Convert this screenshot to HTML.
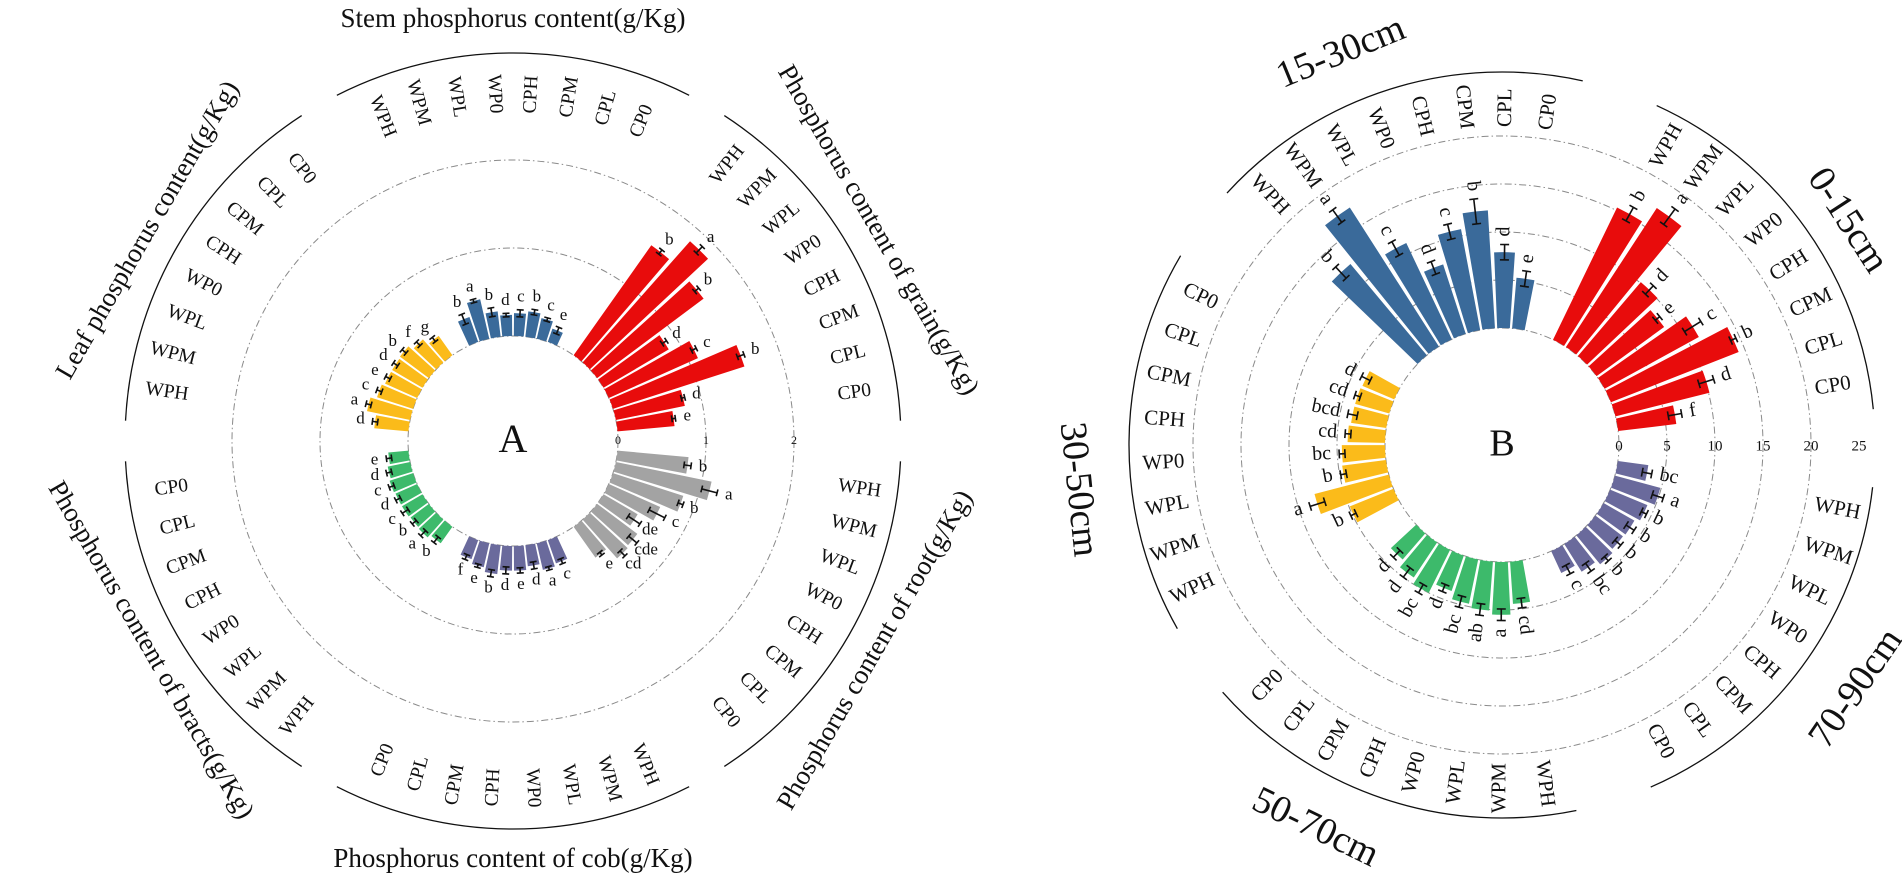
<!DOCTYPE html>
<html><head><meta charset="utf-8">
<style>
html,body{margin:0;padding:0;background:#fff;}
svg{display:block;font-family:"Liberation Serif",serif;}
</style></head>
<body>
<svg id="chart" width="1902" height="885" viewBox="0 0 1902 885" xmlns="http://www.w3.org/2000/svg">
<g id="A"></g>
<g id="B"></g>
</svg>
<script>
// ---- data ----
const categories = ["WPH","WPM","WPL","WP0","CPH","CPM","CPL","CP0"];
// Chart A (g/Kg)
const aTitles = ["Stem phosphorus content(g/Kg)","Phosphorus content of grain(g/Kg)","Phosphorus content of root(g/Kg)","Phosphorus content of cob(g/Kg)","Phosphorus content of bracts(g/Kg)","Leaf phosphorus content(g/Kg)"];
const aStem   = [0.30,0.46,0.29,0.24,0.26,0.29,0.24,0.16];
const aGrain  = [1.53,1.84,1.51,0.86,1.11,1.57,0.80,0.65];
const aRoot   = [0.81,1.11,0.84,0.64,0.45,0.57,0.59,0.43];
const aCob    = [0.28,0.31,0.24,0.28,0.28,0.33,0.28,0.23];
const aBracts = [0.23,0.27,0.26,0.27,0.27,0.28,0.26,0.23];
const aLeaf   = [0.39,0.50,0.43,0.40,0.40,0.41,0.35,0.27];
const aStemErr   = [0.06,0.02,0.05,0.02,0.04,0.03,0.02,0.04];
const aGrainErr  = [0.03,0.05,0.03,0.03,0.03,0.04,0.02,0.02];
const aRootErr   = [0.04,0.09,0.03,0.10,0.08,0.06,0.04,0.02];
const aCobErr    = [0.03,0.02,0.04,0.03,0.04,0.04,0.02,0.03];
const aBractsErr = [0.04,0.04,0.03,0.04,0.03,0.03,0.03,0.03];
const aLeafErr   = [0.03,0.03,0.03,0.03,0.03,0.03,0.03,0.03];
const aStemSig   = ["b","a","b","d","c","b","c","e"];
const aGrainSig  = ["b","a","b","d","c","b","d","e"];
const aRootSig   = ["b","a","b","c","de","cde","cd","e"];
const aCobSig    = ["c","a","d","e","d","b","e","f"];
const aBractsSig = ["b","a","b","c","d","c","d","e"];
const aLeafSig   = ["d","a","c","e","d","b","f","g"];
const aTicks = [0,1,2];
// Chart B (soil depth)
const bTitles = ["0-15cm","15-30cm","30-50cm","50-70cm","70-90cm"];
const b0_15  = [15.3,17.3,10.1,8.7,11.2,14.3,10.1,6.1];
const b15_30 = [12.4,17.2,11.1,7.6,10.7,12.3,7.9,5.3];
const b30_50 = [4.9,8.0,4.6,4.5,3.9,3.7,3.7,3.6];
const b50_70 = [4.4,5.5,5.1,4.7,3.9,5.0,4.4,3.6];
const b70_90 = [3.2,4.9,4.2,3.7,3.6,3.9,3.4,2.5];
const b0_15Err  = [0.8,1.0,0.6,0.3,1.0,0.3,0.8,0.7];
const b15_30Err = [0.8,0.8,0.8,0.7,0.8,1.3,0.8,0.8];
const b30_50Err = [0.3,0.8,0.3,0.3,0.3,0.5,0.3,0.5];
const b50_70Err = [0.5,0.6,0.6,0.6,0.4,0.5,0.6,0.5];
const b70_90Err = [0.5,0.6,0.3,0.5,0.4,0.3,0.5,0.5];
const b0_15Sig  = ["b","a","d","e","c","b","d","f"];
const b15_30Sig = ["b","a","c","d","c","b","d","e"];
const b30_50Sig = ["b","a","b","bc","cd","bcd","cd","d"];
const b50_70Sig = ["cd","a","ab","bc","d","bc","d","d"];
const b70_90Sig = ["bc","a","b","b","b","b","bc","c"];
const bTicks = [0,5,10,15,20,25];

const NS="http://www.w3.org/2000/svg";
function mk(tag, attrs, parent){const e=document.createElementNS(NS,tag);for(const k in attrs)e.setAttribute(k,attrs[k]);parent.appendChild(e);return e;}
function pt(c,a,r){const t=a*Math.PI/180;return [c.cx+r*Math.sin(t), c.cy-r*Math.cos(t)];}
function rad(c,v){return c.r0+v*c.unit;}
function norm(a){return ((a%360)+360)%360;}

function drawChart(c, root){
  c.rings.forEach(v=>{
    const e=mk('circle',{cx:c.cx,cy:c.cy,r:rad(c,v),fill:'none',stroke:'#8a8a8a','stroke-width':1,'stroke-dasharray':'7 3 1.5 3'},root);
    
    
  });
  c.ticks.forEach(v=>{
    const p=pt(c,90,rad(c,v));
    const t=mk('text',{x:p[0],y:p[1]+c.tickDy,'font-size':c.tickFont,'text-anchor':'middle','dominant-baseline':'middle',fill:'#111'},root);
    t.textContent=v;
    
    
  });
  c.groups.forEach((g,gi)=>{
    const gg=mk('g',{},root);
    
    
    g.values.forEach((v,i)=>{
      const a=g.center+(i-3.5)*c.step;
      const a1=a-c.barW/2, a2=a+c.barW/2;
      const r1=rad(c,v);
      const p1=pt(c,a1,c.r0),p2=pt(c,a1,r1),p3=pt(c,a2,r1),p4=pt(c,a2,c.r0);
      const d=`M${p1[0]},${p1[1]} L${p2[0]},${p2[1]} A${r1},${r1} 0 0 1 ${p3[0]},${p3[1]} L${p4[0]},${p4[1]} A${c.r0},${c.r0} 0 0 0 ${p1[0]},${p1[1]} Z`;
      const bar=mk('path',{d:d,fill:g.color},gg);
      
      
      const e=g.err[i];
      const lo=rad(c,v-e), hi=rad(c,v+e);
      const q1=pt(c,a,lo),q2=pt(c,a,hi);
      const eb=mk('g',{stroke:'#111','stroke-width':1.6},gg);
      
      
      mk('line',{x1:q1[0],y1:q1[1],x2:q2[0],y2:q2[1]},eb);
      const cw=c.capW/2;
      [lo,hi].forEach(r=>{
        const da=cw/r*180/Math.PI;
        const s1=pt(c,a-da,r),s2=pt(c,a+da,r);
        mk('line',{x1:s1[0],y1:s1[1],x2:s2[0],y2:s2[1]},eb);
      });
      const rl=hi+c.sigGap;
      const lp=pt(c,a,rl);
      let t;
      if(c.rotSig){
        const n=norm(a);
        const right=n<180;
        const rot=right?n-90:n+90;
        t=mk('text',{x:lp[0],y:lp[1],'font-size':c.sigFont,'text-anchor':right?'start':'end','dominant-baseline':'middle',transform:`rotate(${rot} ${lp[0]} ${lp[1]})`,fill:'#111'},gg);
      } else {
        const lp2=pt(c,a,rl+4);
        t=mk('text',{x:lp2[0],y:lp2[1],'font-size':c.sigFont,'text-anchor':'middle','dominant-baseline':'middle',fill:'#111'},gg);
      }
      t.textContent=g.sig[i];
      
      
      const n=norm(a);
      const right=n<180;
      const rot=right?n-90:n+90;
      const cp=pt(c,a,c.labelR);
      const cl=mk('text',{x:cp[0],y:cp[1],'font-size':c.labelFont,'text-anchor':right?'start':'end','dominant-baseline':'middle',transform:`rotate(${rot} ${cp[0]} ${cp[1]})`,fill:'#111'},gg);
      cl.textContent=categories[i];
      
      
    });
    const s=pt(c,g.center-c.arcHalf,c.arcR), e2=pt(c,g.center+c.arcHalf,c.arcR);
    const arc=mk('path',{d:`M${s[0]},${s[1]} A${c.arcR},${c.arcR} 0 0 1 ${e2[0]},${e2[1]}`,fill:'none',stroke:'#111','stroke-width':1.3},gg);
    
    
    const ta=(g.titleAngle!==undefined)?g.titleAngle:g.center;
    const tr=(g.titleR!==undefined)?g.titleR:c.titleR;
    const n=norm(ta);
    const rot=(n>90&&n<270)?n-180:n;
    const tp=pt(c,ta,tr);
    const tt=mk('text',{x:tp[0],y:tp[1],'font-size':c.titleFont,'text-anchor':'middle','dominant-baseline':'middle',transform:`rotate(${rot} ${tp[0]} ${tp[1]})`,fill:'#111'},gg);
    tt.textContent=g.title;
    
    
  });
  const L=mk('text',{x:c.cx+c.letterDx,y:c.cy+c.letterDy,'font-size':c.letterFont,'text-anchor':'middle','dominant-baseline':'middle',fill:'#111'},root);
  L.textContent=c.letter;
  
  
}

const cfgA={cx:513,cy:441,r0:105,unit:88,step:6.3,barW:5.4,capW:7,sigGap:8,sigFont:17,rotSig:false,
  rings:[0,1,2],ticks:aTicks,tickDy:0,tickFont:12,labelR:328,labelFont:19.5,arcR:388,arcHalf:27,titleR:420,titleFont:27,
  letter:'A',letterDx:0,letterDy:2,letterFont:40,
  groups:[
    {center:0,values:aStem,err:aStemErr,sig:aStemSig,color:'#3a6a9a',title:aTitles[0]},
    {center:60,values:aGrain,err:aGrainErr,sig:aGrainSig,color:'#e80c0c',title:aTitles[1]},
    {center:120,values:aRoot,err:aRootErr,sig:aRootSig,color:'#a3a3a3',title:aTitles[2]},
    {center:180,values:aCob,err:aCobErr,sig:aCobSig,color:'#6a6a9c',title:aTitles[3]},
    {center:240,values:aBracts,err:aBractsErr,sig:aBractsSig,color:'#3dba6b',title:aTitles[4]},
    {center:300,values:aLeaf,err:aLeafErr,sig:aLeafSig,color:'#fbbb1a',title:aTitles[5]}
  ]};
const cfgB={cx:1502,cy:445,r0:117,unit:9.6,step:7.3,barW:6.2,capW:9,sigGap:8,sigFont:20,rotSig:true,
  rings:[0,5,10,15,20],ticks:bTicks,tickDy:2,tickFont:15,labelR:318,labelFont:21,arcR:373,arcHalf:30,titleR:406,titleFont:38,
  letter:'B',letterDx:0,letterDy:2,letterFont:38,
  groups:[
    {center:54.5,values:b0_15,err:b0_15Err,sig:b0_15Sig,color:'#e80c0c',title:bTitles[0],titleAngle:57,titleR:410},
    {center:342.5,values:b15_30,err:b15_30Err,sig:b15_30Sig,color:'#3a6a9a',title:bTitles[1],titleAngle:337.7,titleR:422},
    {center:270.5,values:b30_50,err:b30_50Err,sig:b30_50Sig,color:'#fbbb1a',title:bTitles[2],titleAngle:264,titleR:428},
    {center:198.5,values:b50_70,err:b50_70Err,sig:b50_70Sig,color:'#3dba6b',title:bTitles[3],titleAngle:206,titleR:428},
    {center:126.5,values:b70_90,err:b70_90Err,sig:b70_90Sig,color:'#6a6a9c',title:bTitles[4],titleAngle:124.5,titleR:432}
  ]};
drawChart(cfgA,document.getElementById('A'));
drawChart(cfgB,document.getElementById('B'));
</script>
</body></html>
